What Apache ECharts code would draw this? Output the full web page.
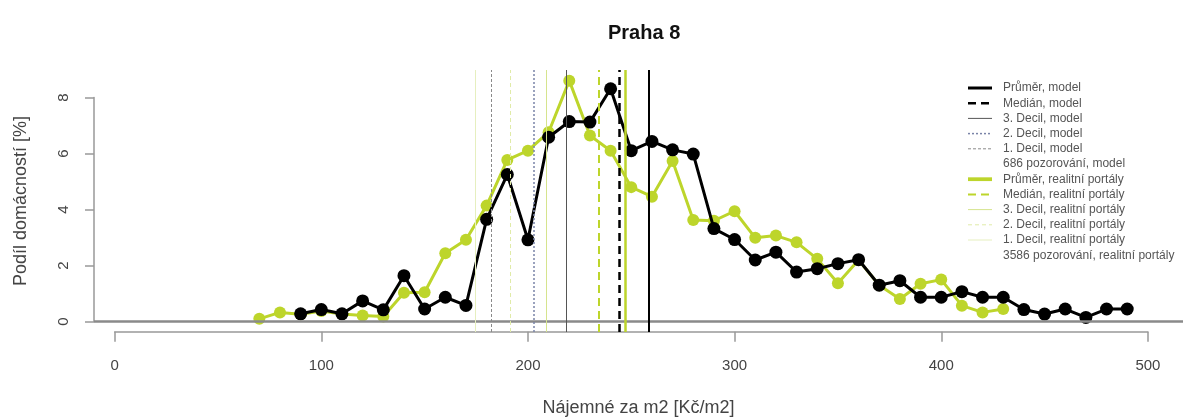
<!DOCTYPE html>
<html><head><meta charset="utf-8">
<script src="https://cdn.jsdelivr.net/npm/echarts@6/dist/echarts.min.js"></script>
<style>html,body{margin:0;padding:0;background:#fff}#c{width:1184px;height:419px}</style>
</head><body><div id="c"></div>
<script>
// ---- data ----
const chartTitle = 'Praha 8';
const xAxisTitle = 'Nájemné za m2 [Kč/m2]';
const yAxisTitle = 'Podíl domácností [%]';

const modelRent  = [90,100,110,120,130,140,150,160,170,180,190,200,210,220,230,240,250,260,270,280,290,300,310,320,330,340,350,360,370,380,390,400,410,420,430,440,450,460,470,480,490];
const modelShare = [0.28,0.43,0.28,0.74,0.42,1.64,0.45,0.87,0.58,3.65,5.25,2.92,6.58,7.14,7.12,8.31,6.10,6.43,6.13,5.98,3.32,2.93,2.20,2.48,1.77,1.89,2.07,2.21,1.30,1.46,0.87,0.87,1.07,0.87,0.87,0.43,0.27,0.45,0.15,0.45,0.45];

const portalRent  = [70,80,90,100,110,120,130,140,150,160,170,180,190,200,210,220,230,240,250,260,270,280,290,300,310,320,330,340,350,360,370,380,390,400,410,420,430];
const portalShare = [0.10,0.33,0.26,0.38,0.27,0.22,0.18,1.03,1.05,2.44,2.92,4.14,5.77,6.10,6.76,8.60,6.64,6.10,4.80,4.46,5.73,3.63,3.60,3.94,2.99,3.07,2.83,2.24,1.37,2.20,1.30,0.81,1.35,1.50,0.57,0.33,0.45];

// mean, median, 3rd decile, 2nd decile, 1st decile
const modelStatValues  = [258.6, 244.0, 218.7, 202.6, 182.4];
const portalStatValues = [247.3, 234.5, 209.0, 191.6, 174.4];

const xTickInterval = 100, xTickMin = 0, xTickMax = 500;
const yTickInterval = 2, yTickMin = 0, yTickMax = 8;

const legendLabels = [
  'Průměr, model','Medián, model','3. Decil, model','2. Decil, model','1. Decil, model','686 pozorování, model',
  'Průměr, realitní portály','Medián, realitní portály','3. Decil, realitní portály','2. Decil, realitní portály','1. Decil, realitní portály','3586 pozorování, realitní portály'
];

// ---- styles ----
const GREEN = '#bdd52b';
const modelStatStyles = [
  {color:'#000', width:2, type:'solid'},
  {color:'#000', width:2.5, type:[8,5]},
  {color:'#555', width:1, type:'solid'},
  {color:'#7a84a8', width:1.5, type:[2,2]},
  {color:'#8a8a8a', width:1, type:[3,2]}
];
const portalStatStyles = [
  {color:GREEN, width:2.5, type:'solid'},
  {color:GREEN, width:2, type:[8,5]},
  {color:'#d6e48e', width:1, type:'solid'},
  {color:'#e0eba8', width:1, type:[4,3]},
  {color:'#e6efbf', width:1, type:'solid'}
];
const legendStyles = [
  modelStatStyles[0], modelStatStyles[1], modelStatStyles[2], modelStatStyles[3], modelStatStyles[4], null,
  portalStatStyles[0], portalStatStyles[1], portalStatStyles[2], portalStatStyles[3], portalStatStyles[4], null
];

const FONT = '"Liberation Sans", Arial, Helvetica, sans-serif';
const TXT = '#444';

function statLines(values, styles) {
  return values.map((v, i) => ({
    xAxis: v,
    lineStyle: {color: styles[i].color, width: styles[i].width, type: styles[i].type}
  }));
}

const legendGraphics = [];
legendLabels.forEach((lab, i) => {
  const y = 88 + i * 15.2;
  const st = legendStyles[i];
  if (st) {
    legendGraphics.push({
      type: 'line', shape: {x1: 968, y1: y, x2: 992, y2: y},
      style: {stroke: st.color, lineWidth: Math.max(st.width, 1) * (i === 0 || i === 6 ? 1.5 : 1), lineDash: Array.isArray(st.type) ? st.type : null}
    });
  }
  legendGraphics.push({
    type: 'text', x: 1003, y: y,
    style: {text: lab, fill: '#555', font: '12px ' + FONT, textVerticalAlign: 'middle', textAlign: 'left'}
  });
});

const gridBase = {containLabel: false, outerBoundsMode: 'none'};

const chart = echarts.init(document.getElementById('c'), null, {renderer: 'canvas'});
chart.setOption({
  animation: false,
  backgroundColor: '#fff',
  title: {
    text: chartTitle, left: 603, top: 18,
    textStyle: {fontFamily: FONT, fontWeight: 'bold', fontSize: 20, color: '#111'}
  },
  graphic: legendGraphics,
  grid: [
    Object.assign({left: 94, right: 1, top: 70, height: 262}, gridBase),
    Object.assign({left: 114.7, width: 1033.2, top: 330.7, height: 1}, gridBase),
    Object.assign({left: 94, width: 1, top: 97.5, height: 224.1}, gridBase)
  ],
  xAxis: [
    {gridIndex: 0, type: 'value', min: -10, max: 517,
     axisLine: {show: false}, axisTick: {show: false}, axisLabel: {show: false}, splitLine: {show: false},
     name: xAxisTitle, nameLocation: 'middle', nameGap: 67,
     nameTextStyle: {fontFamily: FONT, fontSize: 18, color: TXT}},
    {gridIndex: 1, type: 'value', min: xTickMin, max: xTickMax, interval: xTickInterval,
     axisLine: {show: true, lineStyle: {color: '#999', width: 1.5}},
     axisTick: {show: true, length: 10, lineStyle: {color: '#999', width: 1.5}},
     axisLabel: {margin: 27, fontFamily: FONT, fontSize: 15, color: TXT},
     splitLine: {show: false}},
    {gridIndex: 2, type: 'value', show: false}
  ],
  yAxis: [
    {gridIndex: 0, type: 'value', min: -0.37, max: 8.98,
     axisLine: {show: false}, axisTick: {show: false}, axisLabel: {show: false}, splitLine: {show: false},
     name: yAxisTitle, nameLocation: 'middle', nameGap: 64, nameRotate: 90,
     nameTextStyle: {fontFamily: FONT, fontSize: 18, color: TXT}},
    {gridIndex: 1, type: 'value', show: false},
    {gridIndex: 2, type: 'value', min: yTickMin, max: yTickMax, interval: yTickInterval, position: 'left',
     axisLine: {show: true, lineStyle: {color: '#999', width: 1.5}},
     axisTick: {show: true, length: 9, lineStyle: {color: '#999', width: 1.5}},
     axisLabel: {rotate: 90, margin: 23, fontFamily: FONT, fontSize: 15, color: TXT},
     splitLine: {show: false}}
  ],
  series: [
    {
      type: 'line', xAxisIndex: 0, yAxisIndex: 0, data: [], z: 1, silent: true,
      markLine: {
        silent: true, symbol: 'none', label: {show: false},
        data: [{yAxis: 0, lineStyle: {color: '#8a8a8a', width: 2.5, type: 'solid'}}]
          .concat(statLines(portalStatValues.slice().reverse(), portalStatStyles.slice().reverse()))
          .concat(statLines(modelStatValues.slice().reverse(), modelStatStyles.slice().reverse()))
      }
    },
    {
      name: 'realitní portály', type: 'line', xAxisIndex: 0, yAxisIndex: 0, z: 3,
      data: portalRent.map((x, i) => [x, portalShare[i]]),
      symbol: 'circle', symbolSize: 12, showSymbol: true,
      lineStyle: {color: GREEN, width: 3}, itemStyle: {color: GREEN}
    },
    {
      name: 'model', type: 'line', xAxisIndex: 0, yAxisIndex: 0, z: 4,
      data: modelRent.map((x, i) => [x, modelShare[i]]),
      symbol: 'circle', symbolSize: 13, showSymbol: true,
      lineStyle: {color: '#000', width: 3}, itemStyle: {color: '#000'}
    }
  ]
});
</script></body></html>
